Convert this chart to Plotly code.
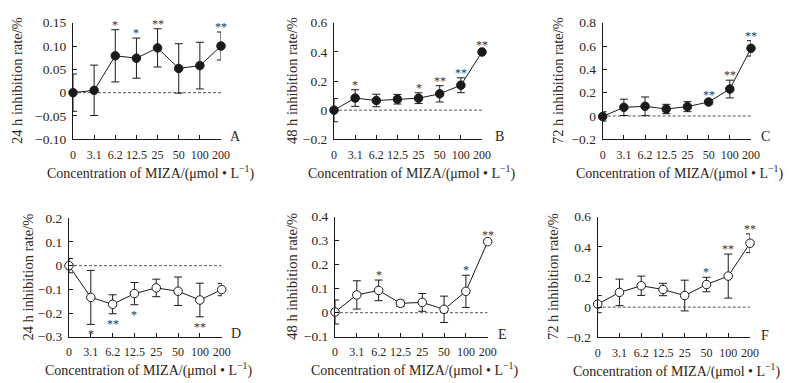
import plotly.graph_objects as go

W, H = 794, 383

categories = ["0", "3.1", "6.2", "12.5", "25", "50", "100", "200"]

# Panel A: 24 h (filled)
a_mean = [0.0, 0.005, 0.079, 0.074, 0.096, 0.052, 0.058, 0.100]
a_err = [0.040, 0.054, 0.056, 0.043, 0.041, 0.053, 0.050, 0.030]
a_sig = ["", "", "*", "*", "**", "", "", "**"]
# Panel B: 48 h (filled)
b_mean = [0.0, 0.083, 0.066, 0.075, 0.082, 0.112, 0.171, 0.399]
b_err = [0.080, 0.057, 0.043, 0.033, 0.037, 0.056, 0.051, 0.016]
b_sig = ["", "*", "", "", "*", "**", "**", "**"]
# Panel C: 72 h (filled)
c_mean = [-0.004, 0.074, 0.083, 0.060, 0.080, 0.120, 0.231, 0.580]
c_err = [0.040, 0.070, 0.080, 0.040, 0.043, 0.018, 0.076, 0.066]
c_sig = ["", "", "", "", "", "**", "**", "**"]
# Panel D: 24 h (open)
d_mean = [0.0, -0.134, -0.163, -0.118, -0.094, -0.108, -0.145, -0.101]
d_err = [0.030, 0.114, 0.040, 0.047, 0.037, 0.060, 0.071, 0.026]
d_sig = ["", "*", "**", "*", "", "", "**", ""]
# Panel E: 48 h (open)
e_mean = [0.003, 0.074, 0.093, 0.039, 0.043, 0.014, 0.089, 0.296]
e_err = [0.050, 0.059, 0.043, 0.013, 0.037, 0.055, 0.067, 0.008]
e_sig = ["", "", "*", "", "", "", "*", "**"]
# Panel F: 72 h (open)
f_mean = [0.020, 0.098, 0.142, 0.117, 0.077, 0.150, 0.206, 0.424]
f_err = [0.057, 0.088, 0.064, 0.041, 0.102, 0.048, 0.146, 0.062]
f_sig = ["", "", "", "", "", "*", "**", "**"]

a_ticks = [-0.10, -0.05, 0, 0.05, 0.10, 0.15]
a_ticktext = ["\u22120.10", "\u22120.05", "0", "0.05", "0.10", "0.15"]
b_ticks = [-0.2, 0, 0.2, 0.4, 0.6]
b_ticktext = ["\u22120.2", "0", "0.2", "0.4", "0.6"]
c_ticks = [-0.2, 0, 0.2, 0.4, 0.6, 0.8]
c_ticktext = ["\u22120.2", "0", "0.2", "0.4", "0.6", "0.8"]
d_ticks = [-0.3, -0.2, -0.1, 0, 0.1, 0.2]
d_ticktext = ["\u22120.3", "\u22120.2", "\u22120.1", "0", "0.1", "0.2"]
e_ticks = [-0.1, 0, 0.1, 0.2, 0.3, 0.4]
e_ticktext = ["\u22120.1", "0", "0.1", "0.2", "0.3", "0.4"]
f_ticks = [-0.2, 0, 0.2, 0.4, 0.6]
f_ticktext = ["\u22120.2", "0", "0.2", "0.4", "0.6"]

x_title = "Concentration of MIZA/(\u03bcmol \u2022 L<sup>\u22121</sup>)"

FONT = "Liberation Serif, Times New Roman, serif"
TXT = "#2e2418"
LINE = "#1a1a1a"
STAR = "#2a3350"

panels = [
    dict(letter="A", mean=a_mean, err=a_err, sig=a_sig, ticks=a_ticks, tt=a_ticktext,
         ytitle="24 h inhibition rate/%", filled=True, box=(73, 221, 22.7, 139.3),
         ytx=17, lpos=(235, 136), below=False),
    dict(letter="B", mean=b_mean, err=b_err, sig=b_sig, ticks=b_ticks, tt=b_ticktext,
         ytitle="48 h inhibition rate/%", filled=True, box=(334, 482, 22.7, 139.3),
         ytx=292, lpos=(500, 136), below=False),
    dict(letter="C", mean=c_mean, err=c_err, sig=c_sig, ticks=c_ticks, tt=c_ticktext,
         ytitle="72 h inhibition rate/%", filled=True, box=(602.7, 751, 22.7, 139.3),
         ytx=558, lpos=(765, 136), below=False),
    dict(letter="D", mean=d_mean, err=d_err, sig=d_sig, ticks=d_ticks, tt=d_ticktext,
         ytitle="24 h inhibition rate/%", filled=False, box=(69, 221.7, 218.3, 336.7),
         ytx=27, lpos=(236, 333), below=True),
    dict(letter="E", mean=e_mean, err=e_err, sig=e_sig, ticks=e_ticks, tt=e_ticktext,
         ytitle="48 h inhibition rate/%", filled=False, box=(335, 487.7, 216.7, 336.7),
         ytx=292, lpos=(502, 334), below=False),
    dict(letter="F", mean=f_mean, err=f_err, sig=f_sig, ticks=f_ticks, tt=f_ticktext,
         ytitle="72 h inhibition rate/%", filled=False, box=(597.7, 750, 216.7, 337.3),
         ytx=553, lpos=(765, 335), below=False),
]

fig = go.Figure()
annotations = []
shapes = []

for i, p in enumerate(panels, start=1):
    xa = "x" if i == 1 else f"x{i}"
    ya = "y" if i == 1 else f"y{i}"
    x0, x1, yt, yb = p["box"]
    idx = list(range(len(categories)))
    fig.add_trace(go.Scatter(
        x=idx, y=p["mean"], xaxis=xa, yaxis=ya,
        mode="lines+markers", cliponaxis=False, showlegend=False,
        line=dict(color=LINE, width=1),
        marker=dict(size=8.5, color=LINE if p["filled"] else "white",
                    line=dict(color=LINE, width=1)),
        error_y=dict(type="data", array=p["err"], visible=True,
                     color=LINE, thickness=1, width=4),
    ))
    ax = dict(
        domain=[x0 / W, x1 / W], anchor=ya, automargin=False,
        range=[0, len(categories) - 1], tickvals=idx, ticktext=categories,
        tickangle=0, showline=True, linecolor=LINE, linewidth=1,
        ticks="inside", ticklen=4, tickcolor=LINE, showgrid=False, zeroline=False,
        tickfont=dict(family=FONT, size=12, color=TXT), ticklabelstandoff=4,
    )
    ay = dict(
        domain=[1 - yb / H, 1 - yt / H], anchor=xa, automargin=False,
        range=[p["ticks"][0], p["ticks"][-1]], tickvals=p["ticks"], ticktext=p["tt"],
        showline=True, linecolor=LINE, linewidth=1, ticks="inside", ticklen=4,
        tickcolor=LINE, showgrid=False, zeroline=False,
        tickfont=dict(family=FONT, size=13.5, color=TXT), ticklabelstandoff=3,
    )
    fig.update_layout(**{("xaxis" if i == 1 else f"xaxis{i}"): ax,
                         ("yaxis" if i == 1 else f"yaxis{i}"): ay})
    shapes.append(dict(type="line", xref=xa, yref=ya, x0=0, x1=len(categories) - 1,
                       y0=0, y1=0, line=dict(color="#555", width=1, dash="3px,2px"),
                       layer="below"))
    for j, (m, e, s) in enumerate(zip(p["mean"], p["err"], p["sig"])):
        if not s:
            continue
        if p["below"]:
            annotations.append(dict(x=j, y=m - e, xref=xa, yref=ya, text=s, showarrow=False,
                                    yanchor="top", yshift=-1,
                                    font=dict(family=FONT, size=12, color=STAR)))
        else:
            annotations.append(dict(x=j, y=m + e, xref=xa, yref=ya, text=s, showarrow=False,
                                    yanchor="bottom", yshift=-4,
                                    font=dict(family=FONT, size=12, color=STAR)))
    annotations.append(dict(x=p["lpos"][0] / W, y=1 - p["lpos"][1] / H, xref="paper", yref="paper",
                            text=p["letter"], showarrow=False, xanchor="center", yanchor="middle",
                            font=dict(family=FONT, size=14, color=TXT)))
    annotations.append(dict(x=p["ytx"] / W, y=1 - (yt + yb) / 2 / H, xref="paper", yref="paper",
                            text=p["ytitle"], textangle=-90, showarrow=False,
                            xanchor="center", yanchor="middle",
                            font=dict(family=FONT, size=14.5, color=TXT)))
    annotations.append(dict(x=((x0 + x1) / 2 + 3) / W, y=1 - (yb + 33) / H, xref="paper", yref="paper",
                            text=x_title, showarrow=False, xanchor="center", yanchor="middle",
                            font=dict(family=FONT, size=14, color=TXT)))

fig.update_layout(
    template="none",
    width=W, height=H, margin=dict(l=0, r=0, t=0, b=0, pad=0), autosize=False,
    paper_bgcolor="white", plot_bgcolor="white",
    annotations=annotations, shapes=shapes, showlegend=False,
)

fig.write_html(
    "out.html",
    config={"displayModeBar": False},
    post_script="document.body.style.margin='0';document.body.style.padding='0';document.body.style.overflow='hidden';",
)
